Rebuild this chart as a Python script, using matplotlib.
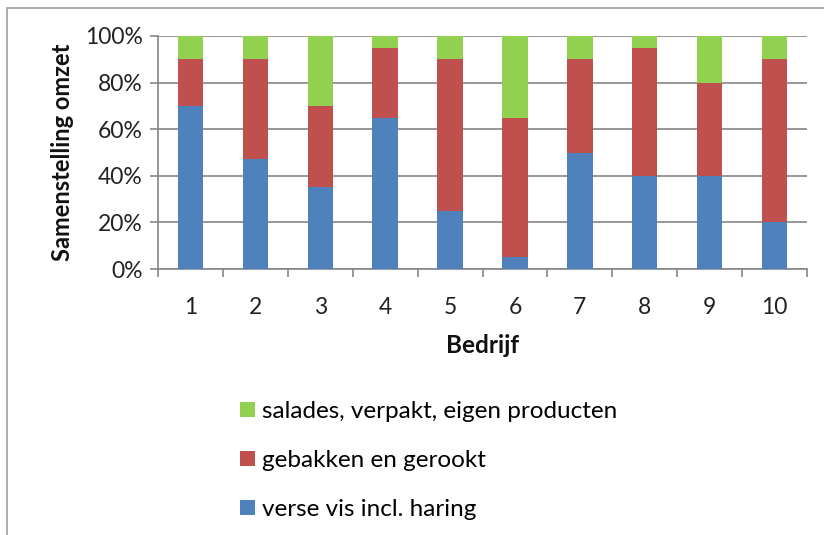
import numpy as np
import matplotlib
matplotlib.use("Agg")
import matplotlib.pyplot as plt
from matplotlib.patches import Rectangle

plt.rcParams["font.family"] = ["Lato", "DejaVu Sans"]

# ── data ──
bedrijf = ["1", "2", "3", "4", "5", "6", "7", "8", "9", "10"]
verse_vis = [70, 47, 35, 65, 25, 5, 50, 40, 40, 20]
gebakken = [20, 43, 35, 30, 65, 60, 40, 55, 40, 70]
salades = [10, 10, 30, 5, 10, 35, 10, 5, 20, 10]

series_names = ["verse vis incl. haring", "gebakken en gerookt",
                "salades, verpakt, eigen producten"]
COLORS = ["#4F81BD", "#C0504D", "#92D050"]
GRID = "#868686"

fig = plt.figure(figsize=(8.24, 5.35), dpi=100)
# chart frame
fig.patches.append(Rectangle((7 / 824, -0.1), 1.2, 1 - 8 / 535 + 0.1,
                             transform=fig.transFigure, fill=False,
                             ec="#A0A0A0", lw=1.2))

ax = fig.add_axes([158 / 824, 1 - 269 / 535, (807 - 158) / 824, (269 - 36) / 535])
x = np.arange(len(bedrijf))
bottom = np.zeros(len(bedrijf))
bars = []
for vals, col, name in zip([verse_vis, gebakken, salades], COLORS, series_names):
    b = ax.bar(x, vals, width=0.39, bottom=bottom, color=col, label=name, zorder=3)
    bars.append(b)
    bottom += np.array(vals)

ax.set_xlim(-0.5, len(bedrijf) - 0.5)
ax.set_ylim(0, 100)
ax.set_yticks(range(0, 101, 20))
ax.set_yticklabels([f"{v}%" for v in range(0, 101, 20)])
ax.set_xticks(x)
ax.set_xticklabels(bedrijf)
ax.set_xticks(np.arange(-0.5, len(bedrijf)), minor=True)
ax.tick_params(axis="x", which="major", length=0, pad=20, labelsize=16.5, colors="#222222")
ax.tick_params(axis="x", which="minor", length=6, width=1.2, color=GRID, direction="out")
ax.tick_params(axis="y", length=6, width=1.2, color=GRID, labelsize=16.5, pad=5,
               labelcolor="#222222")

ax.grid(axis="y", color=GRID, lw=1.2, zorder=0)
for s in ["top", "right"]:
    ax.spines[s].set_visible(False)
for s in ["left", "bottom"]:
    ax.spines[s].set_color(GRID)
    ax.spines[s].set_linewidth(1.2)

ax.set_xlabel("Bedrijf", fontsize=17.5, fontweight="bold", labelpad=12, color="#111111")
ax.set_ylabel("Samenstelling omzet", fontsize=17, fontweight="bold", labelpad=8,
              color="#111111")

handles = bars[::-1]
fig.legend(handles, [b.get_label() for b in handles],
           loc="upper left", bbox_to_anchor=(240 / 824, 1 - 401 / 535),
           frameon=False, fontsize=17.5, labelspacing=1.15,
           handlelength=0.6, handleheight=0.6, handletextpad=0.3,
           borderpad=0, borderaxespad=0)

fig.savefig("out.png", dpi=100)
